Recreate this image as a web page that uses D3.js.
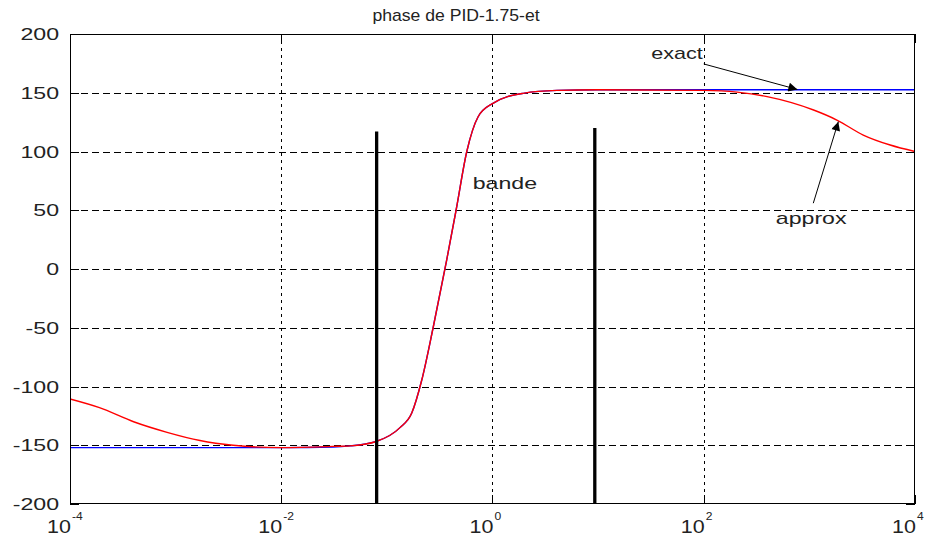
<!DOCTYPE html>
<html>
<head>
<meta charset="utf-8">
<script src="https://cdn.jsdelivr.net/npm/d3@7"></script>
<style>
  body { margin: 0; background: #fff; }
  text { font-family: "Liberation Sans", Arial, sans-serif; fill: #222; }
</style>
</head>
<body>
<div id="chart"></div>
<script>
// values: frequency (rad/s), phase (deg)
const approxFreq = [1e-4, 1.9e-4, 4.0e-4, 8.3e-4, 1.7e-3, 3.5e-3, 1e-2, 0.031, 0.045, 0.078,
  0.133, 0.172, 0.214, 0.274, 0.369, 0.452, 0.571, 0.731, 1.01, 1.95, 4.07, 10, 100,
  207, 398, 1096, 1820, 3236, 5821, 1e4];
const approxPhase = [-110.6, -118, -130, -139, -146, -150, -152, -151, -150.5, -147,
  -135, -122.6, -94.5, -50, 8, 50, 100, 129.6, 141, 149.5, 152, 152.5, 152,
  150.5, 146.7, 135.3, 126.8, 114, 105.5, 100];

const exactFreq = [1e-4, 1e-3, 1e-2, 0.031, 0.045, 0.078,
  0.133, 0.172, 0.214, 0.274, 0.369, 0.452, 0.571, 0.731, 1.01, 1.95, 4.07, 10, 100, 1000, 1e4];
const exactPhase = [-152, -152, -152, -151.5, -150.5, -147,
  -135, -122.6, -94.5, -50, 8, 50, 100, 129.6, 141, 149.5, 152, 152.5, 152.5, 152.5, 152.5];

// band limits (thick black bars)
const bandFreq = [0.08, 9.3];
const bandTop = [117, 120];

const yTicks = [-200, -150, -100, -50, 0, 50, 100, 150, 200];
const xExponents = [-4, -2, 0, 2, 4];
const title = "phase de PID-1.75-et";

const width = 936;
const height = 539;
const marginTop = 34;
const marginRight = 21;
const marginBottom = 35;
const marginLeft = 70;

const x = d3.scaleLog([1e-4, 1e4], [marginLeft, width - marginRight]);
const y = d3.scaleLinear([-200, 200], [height - marginBottom, marginTop]);

const svg = d3.select("#chart").append("svg")
  .attr("width", width)
  .attr("height", height)
  .attr("viewBox", [0, 0, width, height]);

svg.append("defs").append("clipPath").attr("id", "plot")
  .append("rect")
  .attr("x", marginLeft).attr("y", marginTop)
  .attr("width", width - marginLeft - marginRight)
  .attr("height", height - marginTop - marginBottom);

svg.append("defs").append("marker")
  .attr("id", "head")
  .attr("viewBox", "0 0 10 10")
  .attr("refX", 10).attr("refY", 5)
  .attr("markerWidth", 16).attr("markerHeight", 9)
  .attr("markerUnits", "userSpaceOnUse")
  .attr("orient", "auto")
  .append("path").attr("d", "M0,0L10,5L0,10Z").attr("fill", "#000");

// grid
svg.append("g")
  .attr("stroke", "#000").attr("stroke-width", 1).attr("stroke-dasharray", "7,4")
  .selectAll("line")
  .data(yTicks.slice(1, -1))
  .join("line")
  .attr("x1", marginLeft).attr("x2", width - marginRight)
  .attr("y1", d => Math.round(y(d)) + 0.5).attr("y2", d => Math.round(y(d)) + 0.5);

svg.append("g")
  .attr("stroke", "#000").attr("stroke-width", 1).attr("stroke-dasharray", "3,4")
  .selectAll("line")
  .data(xExponents.slice(1, -1))
  .join("line")
  .attr("x1", d => Math.round(x(10 ** d)) + 0.5).attr("x2", d => Math.round(x(10 ** d)) + 0.5)
  .attr("y1", marginTop).attr("y2", height - marginBottom);

// curves
const line = d3.line()
  .x(d => x(d[0]))
  .y(d => y(d[1]))
  .curve(d3.curveMonotoneX);

const plot = svg.append("g").attr("clip-path", "url(#plot)");

plot.append("path")
  .datum(d3.zip(exactFreq, exactPhase))
  .attr("fill", "none")
  .attr("stroke", "#0000ff")
  .attr("stroke-width", 1.4)
  .attr("d", line);

plot.append("path")
  .datum(d3.zip(approxFreq, approxPhase))
  .attr("fill", "none")
  .attr("stroke", "#ff0000")
  .attr("stroke-width", 1.4)
  .attr("d", line);

// band bars
svg.append("g")
  .attr("stroke", "#000").attr("stroke-width", 3.3)
  .selectAll("line")
  .data(d3.zip(bandFreq, bandTop))
  .join("line")
  .attr("x1", d => x(d[0])).attr("x2", d => x(d[0]))
  .attr("y1", d => y(d[1])).attr("y2", y(-200));

// frame and inward ticks
const tick = 9;
const frame = svg.append("g").attr("stroke", "#000").attr("stroke-width", 1);
frame.append("rect")
  .attr("x", marginLeft + 0.5).attr("y", marginTop + 0.5)
  .attr("width", width - marginLeft - marginRight - 1)
  .attr("height", height - marginTop - marginBottom - 1)
  .attr("fill", "none");

yTicks.forEach(v => {
  const yy = Math.round(y(v)) + 0.5;
  frame.append("line").attr("x1", marginLeft).attr("x2", marginLeft + tick).attr("y1", yy).attr("y2", yy);
  frame.append("line").attr("x1", width - marginRight - tick).attr("x2", width - marginRight).attr("y1", yy).attr("y2", yy);
});
xExponents.forEach(e => {
  const xx = Math.round(x(10 ** e)) + 0.5;
  frame.append("line").attr("x1", xx).attr("x2", xx).attr("y1", marginTop).attr("y2", marginTop + tick);
  frame.append("line").attr("x1", xx).attr("x2", xx).attr("y1", height - marginBottom - tick).attr("y2", height - marginBottom);
});

// labels, glyphs stretched horizontally as in the picture
function stretched(g, str, px, py, size, sx, anchor) {
  return g.append("text")
    .attr("transform", `translate(${px},${py}) scale(${sx},1)`)
    .attr("font-size", size)
    .attr("text-anchor", anchor)
    .text(str);
}

const labels = svg.append("g");
yTicks.forEach(v => stretched(labels, v, 59, y(v) + 6, 17, 1.36, "end"));
xExponents.forEach(e => {
  stretched(labels, "10", x(10 ** e) + 1, height - 6, 19, 1.13, "end");
  stretched(labels, e, x(10 ** e) + 2, height - 19, 11, 1.1, "start");
});

stretched(labels, title, 456, 21, 16, 1.1, "middle");

// annotations
stretched(labels, "exact", x(98), y(178.5), 17, 1.27, "end");
stretched(labels, "approx", x(1040), y(38), 17, 1.36, "middle");
stretched(labels, "bande", x(0.65), y(68), 17, 1.36, "start");

const arrows = [
  [[100, 174.5], [770, 152.8]],
  [[1089, 56], [1880, 125.4]]
];
svg.append("g")
  .attr("stroke", "#000").attr("stroke-width", 1)
  .selectAll("line")
  .data(arrows)
  .join("line")
  .attr("x1", d => x(d[0][0])).attr("y1", d => y(d[0][1]))
  .attr("x2", d => x(d[1][0])).attr("y2", d => y(d[1][1]))
  .attr("marker-end", "url(#head)");
</script>
</body>
</html>
